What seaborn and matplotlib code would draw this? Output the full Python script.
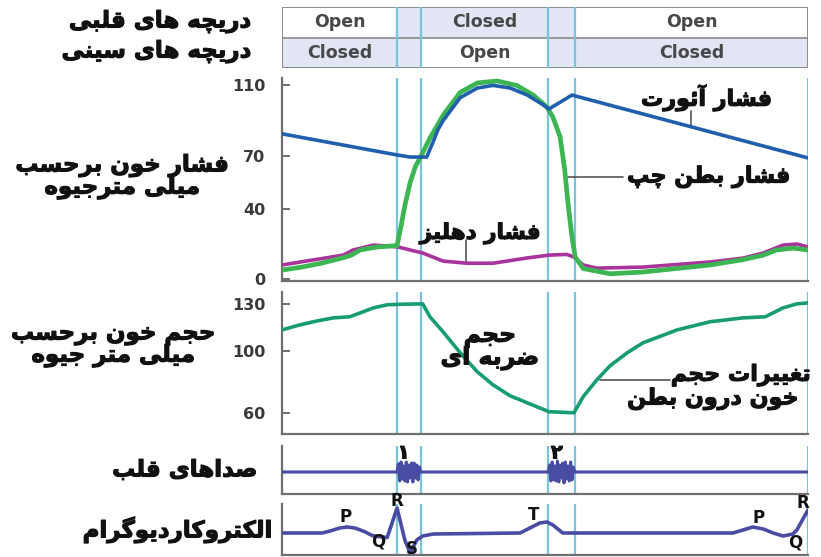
import numpy as np
import pandas as pd
import matplotlib
matplotlib.use("Agg")
import matplotlib.pyplot as plt
import matplotlib.patheffects as pe
import seaborn as sns
from matplotlib.patches import Rectangle

# ---------------------------------------------------------------- data
# time in ms over one cardiac cycle
phase_edges = [0, 175, 211, 405, 446, 800]

valve_names = ["دریچه های قلبی", "دریچه های سینی"]
av_states = ["Open", "", "Closed", "", "Open"]
sl_states = ["Closed", "", "Open", "", "Closed"]

aorta_t = [0, 175, 195, 220, 230, 237, 245, 271, 297, 321, 347, 373, 397, 406, 441, 800]
aorta_p = [82.5, 70.5, 69.3, 69.3, 78, 84.7, 90, 103, 108.5, 110, 108.5, 104.5, 99, 96.6, 104.5, 68.8]

lv_t = [0, 30, 60, 92, 105, 119, 144, 175, 181, 187, 195, 203, 211, 225, 245, 271, 297,
        327, 357, 382, 403, 412, 423, 430, 435, 441, 446, 458, 499, 549, 651, 701, 732,
        752, 777, 800]
lv_p = [5.1, 6.8, 9, 12, 13.5, 16.5, 18.2, 19, 30, 42, 55, 64, 69.5, 80, 93, 106, 111.4,
        112.5, 110, 104.5, 97.7, 92, 80.7, 62, 43, 24, 12.5, 6, 3, 4, 8, 11, 13.6,
        16.5, 17.6, 16.5]

atrium_t = [0, 93, 108, 139, 160, 177, 195, 214, 245, 281, 321, 373, 406, 433, 444, 458,
            479, 549, 651, 701, 732, 762, 783, 800]
atrium_p = [8, 13.6, 16.5, 19.3, 18.8, 18.2, 16.5, 14.8, 10.2, 9, 9, 12, 13.6, 14, 12.5, 8,
            6.2, 6.8, 9.7, 11.9, 14.8, 19.3, 19.9, 18.2]

volume_t = [0, 27, 53, 78, 103, 119, 139, 160, 177, 214, 225, 245, 271, 297, 321, 347, 373,
            406, 444, 458, 479, 499, 525, 549, 601, 651, 701, 735, 762, 783, 800]
volume_ml = [113.3, 116.5, 119, 121, 121.7, 124.2, 127.4, 129.4, 129.7, 130, 121.7, 112,
             98.6, 86.4, 78, 71, 66.5, 60.8, 60.1, 70.4, 81.3, 90.3, 98.6, 105, 113.3,
             118.5, 121, 121.7, 127.4, 130, 130.6]

s1_t = list(range(175, 212, 2))
s1_a = [0, 0.8, -0.9, 1.0, -0.7, 0.6, -0.9, 1.0, -1.0, 0.7, -0.6, 0.9, -1.0, 0.9,
        -0.6, 0.7, -0.8, 0.5, 0]
s2_t = list(range(405, 446, 2))
s2_a = [0, 0.7, -0.9, 1.0, -0.8, 0.6, -0.9, 1.1, -1.0, 0.7, -0.6, 0.9, -1.1, 1.0,
        -0.7, 0.6, -0.9, 1.0, -0.8, 0.5, 0]
sound_t = [0] + s1_t + s2_t + [446, 800]
sound_a = [0] + s1_a + s2_a + [0, 0]
sound_marks = ["۱", "۲"]

ecg_t = [0, 61, 73, 88, 99, 111, 126, 137, 149, 160, 175, 187, 195, 205, 214, 230, 362,
         377, 392, 403, 412, 427, 438, 686, 701, 716, 732, 747, 762, 777, 783, 800]
ecg_mv = [0, 0, 0.08, 0.2, 0.24, 0.2, 0.05, -0.1, -0.15, -0.18, 1.0, -0.3, -0.8, -0.28,
          -0.12, -0.04, 0, 0.2, 0.4, 0.44, 0.32, 0, 0, 0, 0.12, 0.24, 0.16, 0, -0.12,
          -0.04, 0.12, 0.92]
ecg_waves = ["P", "Q", "R", "S", "T", "P", "Q", "R"]
ecg_wave_t = [96, 146, 175, 198, 383, 725, 780, 792]
ecg_wave_y = [0.62, -0.35, 1.28, -0.64, 0.72, 0.6, -0.38, 1.2]

# ---------------------------------------------------------------- Persian shaping
DUAL = {
    "ئ": "\uFE89\uFE8A\uFE8B\uFE8C", "ب": "\uFE8F\uFE90\uFE91\uFE92",
    "پ": "\uFB56\uFB57\uFB58\uFB59",
    "ت": "\uFE95\uFE96\uFE97\uFE98", "ج": "\uFE9D\uFE9E\uFE9F\uFEA0",
    "ح": "\uFEA1\uFEA2\uFEA3\uFEA4", "خ": "\uFEA5\uFEA6\uFEA7\uFEA8",
    "س": "\uFEB1\uFEB2\uFEB3\uFEB4", "ش": "\uFEB5\uFEB6\uFEB7\uFEB8",
    "ص": "\uFEB9\uFEBA\uFEBB\uFEBC", "ض": "\uFEBD\uFEBE\uFEBF\uFEC0",
    "ط": "\uFEC1\uFEC2\uFEC3\uFEC4", "غ": "\uFECD\uFECE\uFECF\uFED0",
    "ف": "\uFED1\uFED2\uFED3\uFED4", "ق": "\uFED5\uFED6\uFED7\uFED8",
    "ل": "\uFEDD\uFEDE\uFEDF\uFEE0", "م": "\uFEE1\uFEE2\uFEE3\uFEE4",
    "ن": "\uFEE5\uFEE6\uFEE7\uFEE8", "ه": "\uFEE9\uFEEA\uFEEB\uFEEC",
    "ی": "\uFBFC\uFBFD\uFBFE\uFBFF", "چ": "\uFB7A\uFB7B\uFB7C\uFB7D",
    "ک": "\uFB8E\uFB8F\uFB90\uFB91", "گ": "\uFB92\uFB93\uFB94\uFB95",
}
RIGHT = {
    "ا": "\uFE8D\uFE8E", "آ": "\uFE81\uFE82", "د": "\uFEA9\uFEAA",
    "ر": "\uFEAD\uFEAE", "ز": "\uFEAF\uFEB0", "و": "\uFEED\uFEEE",
}


def fa(text):
    lines = []
    for line in text.split("\n"):
        out = []
        for i, c in enumerate(line):
            prev = line[i - 1] if i > 0 else ""
            nxt = line[i + 1] if i + 1 < len(line) else ""
            before = prev in DUAL
            if c in DUAL:
                after = nxt in DUAL or nxt in RIGHT
                idx = 3 if (before and after) else 1 if before else 2 if after else 0
                out.append(DUAL[c][idx])
            elif c in RIGHT:
                out.append(RIGHT[c][1 if before else 0])
            else:
                out.append(c)
        lines.append("".join(reversed(out)))
    return "\n".join(lines)


# ---------------------------------------------------------------- style
sns.set_theme(style="white")
plt.rcParams["font.family"] = ["DejaVu Sans"]

W, H = 821, 557
fig = plt.figure(figsize=(W / 100, H / 100), dpi=100)
fig.patch.set_facecolor("white")


def box(x0, y0, x1, y1):
    return [x0 / W, 1 - y1 / H, (x1 - x0) / W, (y1 - y0) / H]


X0, X1 = 282, 808
ax_tab = fig.add_axes(box(X0, 7, X1, 68))
ax_p = fig.add_axes(box(X0, 78, X1, 281))
ax_v = fig.add_axes(box(X0, 292, X1, 434))
ax_s = fig.add_axes(box(X0, 446, X1, 494))
ax_e = fig.add_axes(box(X0, 504, X1, 555))

SPINE = "#6f6f6f"
VLINE = "#79c3de"
INK = "#111111"
heavy = [pe.withStroke(linewidth=0.8, foreground=INK)]
bold = dict(fontweight="bold", color=INK, path_effects=heavy)

for ax in (ax_p, ax_v, ax_s, ax_e):
    ax.set_xlim(0, 800)
    sns.despine(ax=ax)
    for side in ("left", "bottom"):
        ax.spines[side].set_color(SPINE)
        ax.spines[side].set_linewidth(1.6)
    for t in phase_edges[1:]:
        ax.axvline(t, color=VLINE, lw=1.6, zorder=1)
    ax.set_xticks([])
    ax.set_xlabel("")
    ax.set_ylabel("")
    ax.patch.set_alpha(0)

# ---------------------------------------------------------------- valve table
ax_tab.set_xlim(0, 800)
ax_tab.set_ylim(0, 2)
ax_tab.axis("off")
SHADE = "#e2e5f3"
for row, states in enumerate([av_states, sl_states]):
    y = 1 - row
    for k, st in enumerate(states):
        a, b = phase_edges[k], phase_edges[k + 1]
        fc = "white" if st == "Open" else SHADE
        ax_tab.add_patch(Rectangle((a, y), b - a, 1, facecolor=fc, edgecolor="none"))
        if st:
            ax_tab.text((a + b) / 2, y + 0.5, st, ha="center", va="center",
                        fontsize=12.5, fontweight="bold", color="#474747")
ax_tab.plot([0, 800], [1, 1], color="#8a8a8a", lw=1.2)
ax_tab.add_patch(Rectangle((0, 0), 800, 2, fill=False, edgecolor="#8a8a8a", lw=1.4))
for t in phase_edges[1:-1]:
    ax_tab.plot([t, t], [0, 2], color=VLINE, lw=1.6)
for row, name in enumerate(valve_names):
    fig.text(251 / W, 1 - (22 + 30 * row) / H, fa(name), ha="right", va="center",
             fontsize=16.5, **bold)

# ---------------------------------------------------------------- pressures
df_a = pd.DataFrame({"t": aorta_t, "p": aorta_p})
df_lv = pd.DataFrame({"t": lv_t, "p": lv_p})
df_at = pd.DataFrame({"t": atrium_t, "p": atrium_p})
sns.lineplot(data=df_at, x="t", y="p", ax=ax_p, color="#a8349c", lw=2.6,
             estimator=None, sort=False, zorder=3)
sns.lineplot(data=df_lv, x="t", y="p", ax=ax_p, color="#3db552", lw=3.4,
             estimator=None, sort=False, zorder=4)
sns.lineplot(data=df_a, x="t", y="p", ax=ax_p, color="#1f5fae", lw=2.6,
             estimator=None, sort=False, zorder=5)
ax_p.set_ylim(-1.1, 114.2)
ax_p.set_yticks([0, 40, 70, 110])
ax_p.set_xlabel("")
ax_p.set_ylabel("")

ax_p.text(646, 102.8, fa("فشار آئورت"), ha="center", va="center", fontsize=16, **bold)
ax_p.plot([622, 622], [95.5, 86.8], color="#555555", lw=1.2)
ax_p.text(649, 58, fa("فشار بطن چپ"), ha="center", va="center", fontsize=16, **bold)
ax_p.plot([433, 519], [58, 58], color="#555555", lw=1.2)
ax_p.text(301, 26, fa("فشار دهلیز"), ha="center", va="center", fontsize=15.5, **bold)
ax_p.plot([280, 280], [22, 9.5], color="#555555", lw=1.2)
fig.text(122 / W, 1 - 177 / H, fa("فشار خون برحسب\nمیلی مترجیوه"), ha="center",
         va="center", fontsize=16.5, linespacing=0.9, **bold)

# ---------------------------------------------------------------- ventricular volume
df_v = pd.DataFrame({"t": volume_t, "v": volume_ml})
sns.lineplot(data=df_v, x="t", y="v", ax=ax_v, color="#179c74", lw=2.6,
             estimator=None, sort=False, zorder=3)
ax_v.set_ylim(46.5, 137.6)
ax_v.set_yticks([60, 100, 130])
ax_v.set_xlabel("")
ax_v.set_ylabel("")
ax_v.text(316, 102.4, fa("حجم\nضربه ای"), ha="center", va="center", fontsize=17,
          linespacing=0.9, **bold)
ax_v.text(804, 84.2, fa("تغییرات حجم"), ha="right", va="center", fontsize=16, **bold)
ax_v.text(786, 69.0, fa("خون درون بطن"), ha="right", va="center", fontsize=16, **bold)
ax_v.plot([484, 590], [81.3, 81.3], color="#555555", lw=1.2)
fig.text(113 / W, 1 - 345 / H, fa("حجم خون برحسب\nمیلی متر جیوه"), ha="center",
         va="center", fontsize=16.5, linespacing=0.9, **bold)

for ax in (ax_p, ax_v):
    ax.tick_params(axis="y", direction="in", length=6, width=1.4, color=SPINE,
                   pad=12, labelsize=11.5, left=True)
    plt.setp(ax.get_yticklabels(), fontweight="bold", color="#3a3a3a")

# ---------------------------------------------------------------- heart sounds
df_s = pd.DataFrame({"t": sound_t, "a": sound_a})
sns.lineplot(data=df_s, x="t", y="a", ax=ax_s, color="#4a4ba3", lw=2.2,
             estimator=None, sort=False, zorder=3)
ax_s.set_ylim(-2.2, 2.6)
ax_s.set_yticks([])
ax_s.set_xlabel("")
ax_s.set_ylabel("")
for mark, t in zip(sound_marks, [185, 418]):
    ax_s.text(t, 1.9, mark, ha="center", va="center", fontsize=14, **bold)
fig.text(257 / W, 1 - 470 / H, fa("صداهای قلب"), ha="right", va="center",
         fontsize=16.5, **bold)

# ---------------------------------------------------------------- ECG
df_e = pd.DataFrame({"t": ecg_t, "mv": ecg_mv})
sns.lineplot(data=df_e, x="t", y="mv", ax=ax_e, color="#4a4ba3", lw=2.6,
             estimator=None, sort=False, zorder=3)
ax_e.set_ylim(-0.88, 1.16)
ax_e.set_yticks([])
ax_e.set_xlabel("")
ax_e.set_ylabel("")
for lab, t, y in zip(ecg_waves, ecg_wave_t, ecg_wave_y):
    ax_e.text(t, y, lab, ha="center", va="center", fontsize=12, clip_on=False,
              fontweight="bold", color=INK)
fig.text(272 / W, 1 - 530 / H, fa("الکتروکاردیوگرام"), ha="right", va="center",
         fontsize=16.5, **bold)

fig.savefig("out.png", dpi=100, facecolor="white")
